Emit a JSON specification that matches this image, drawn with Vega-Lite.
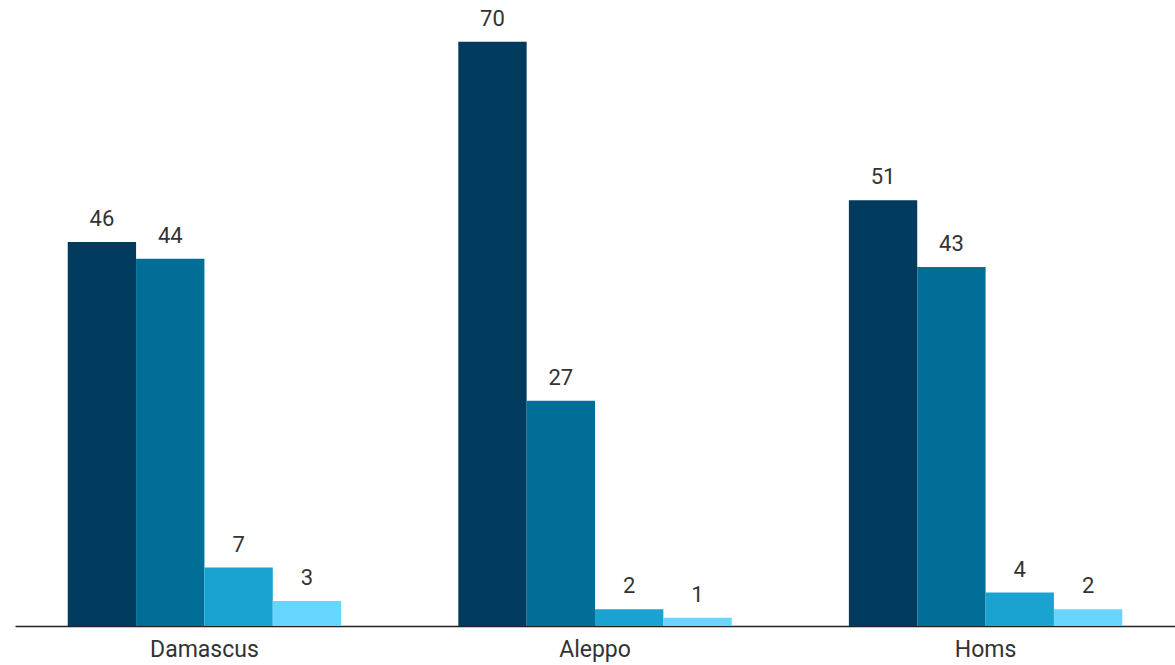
{
  "$schema": "https://vega.github.io/schema/vega-lite/v6.json",
  "width": 1160,
  "height": 626,
  "padding": {"left": 15, "top": 0, "right": 0, "bottom": 39},
  "autosize": {"type": "none"},
  "background": "white",
  "config": {"view": {"stroke": null}, "font": "Roboto"},
  "data": {
    "values": [
      {"city": "Damascus", "series": "A", "value": 46},
      {"city": "Damascus", "series": "B", "value": 44},
      {"city": "Damascus", "series": "C", "value": 7},
      {"city": "Damascus", "series": "D", "value": 3},
      {"city": "Aleppo", "series": "A", "value": 70},
      {"city": "Aleppo", "series": "B", "value": 27},
      {"city": "Aleppo", "series": "C", "value": 2},
      {"city": "Aleppo", "series": "D", "value": 1},
      {"city": "Homs", "series": "A", "value": 51},
      {"city": "Homs", "series": "B", "value": 43},
      {"city": "Homs", "series": "C", "value": 4},
      {"city": "Homs", "series": "D", "value": 2}
    ]
  },
  "encoding": {
    "x": {
      "field": "city", "type": "nominal", "sort": ["Damascus", "Aleppo", "Homs"],
      "scale": {"paddingInner": 0.3, "paddingOuter": 0.135},
      "axis": {"title": null, "labelAngle": 0, "ticks": false, "domainColor": "#222222", "domainWidth": 1.5, "labelFontSize": 23, "labelColor": "#333333", "labelPadding": 12, "labelFont": "Roboto"}
    },
    "xOffset": {"field": "series", "type": "nominal", "sort": ["A", "B", "C", "D"], "scale": {"paddingInner": 0, "paddingOuter": 0}},
    "y": {"field": "value", "type": "quantitative", "scale": {"domain": [0, 75]}, "axis": null}
  },
  "layer": [
    {
      "mark": {"type": "bar"},
      "encoding": {
        "color": {"field": "series", "type": "nominal", "scale": {"domain": ["A", "B", "C", "D"], "range": ["#003a5d", "#006e96", "#1aa3d0", "#66d5ff"]}, "legend": null}
      }
    },
    {
      "mark": {"type": "text", "baseline": "bottom", "dy": -11, "fontSize": 22, "color": "#333333", "font": "Roboto"},
      "encoding": {"text": {"field": "value", "type": "quantitative"}}
    }
  ]
}
